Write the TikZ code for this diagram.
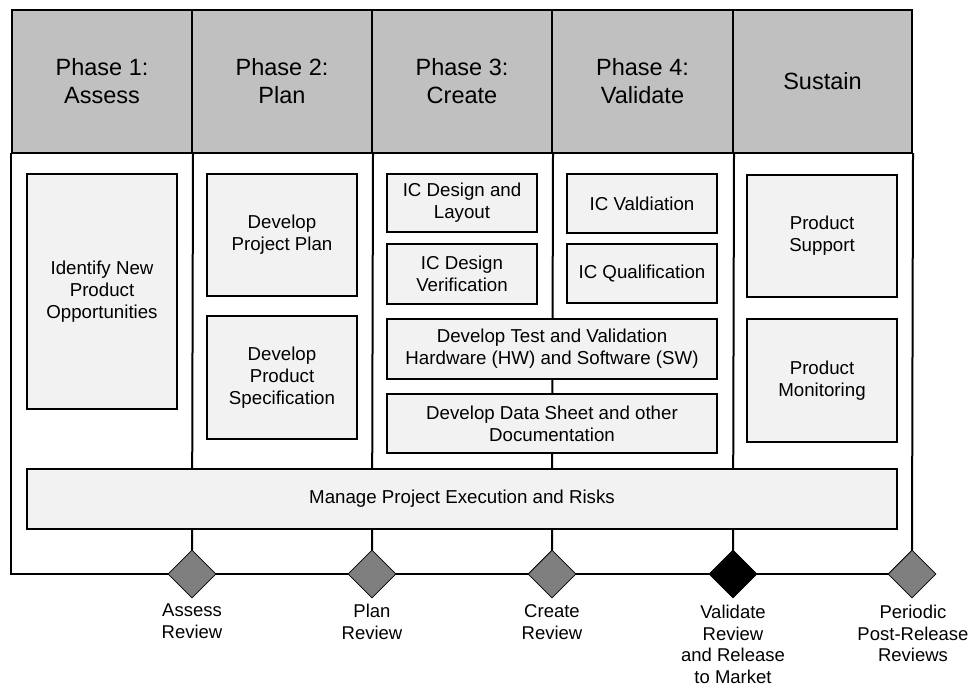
\documentclass[tikz,border=0pt]{standalone}
\usepackage{fontspec}
\setmainfont{Liberation Sans}
\usetikzlibrary{shapes.geometric,backgrounds}
\definecolor{hdrgray}{HTML}{C0C0C0}
\definecolor{boxfill}{HTML}{F2F2F2}
\definecolor{gategray}{HTML}{7F7F7F}
\begin{document}
\begin{tikzpicture}[x=1pt,y=-1pt,
 hdr/.style={draw=black,line width=2pt,fill=hdrgray,minimum height=143pt,inner sep=0pt,align=center,font=\fontsize{23.5}{28}\selectfont},
 box/.style={draw=black,line width=1.3pt,fill=boxfill,inner sep=0pt,align=center,font=\fontsize{18.7}{21.8}\selectfont},
 gate/.style={diamond,draw=black,line width=0.8pt,fill=gategray,minimum width=48pt,minimum height=48pt,inner sep=0pt},
 lab/.style={align=center,font=\fontsize{18.5}{21.7}\selectfont,inner sep=0pt},
 frame/.style={line width=2pt,line cap=rect}]
\useasboundingbox (0,0) rectangle (971,686);
% header
\node[hdr,minimum width=180pt] (h1) at (102,81.5) {Phase 1:\\Assess};
\node[hdr,minimum width=180pt] (h2) at (282,81.5) {Phase 2:\\Plan};
\node[hdr,minimum width=180pt] (h3) at (462,81.5) {Phase 3:\\Create};
\node[hdr,minimum width=181pt] (h4) at (642.5,81.5) {Phase 4:\\Validate};
\node[hdr,minimum width=179pt] (h5) at (822.5,81.5) {Sustain};
% boxes
\node[box,minimum width=150pt,minimum height=235pt] (idn) at (102,291.5) {Identify New\\Product\\Opportunities};
\node[box,minimum width=150pt,minimum height=122pt] (dpp) at (282,235) {Develop\\Project Plan};
\node[box,minimum width=150pt,minimum height=123pt] (dps) at (282,377.5) {Develop\\Product\\Specification};
\node[box,minimum width=150pt,minimum height=58pt] (icl) at (462,203) {IC Design and\\Layout};
\node[box,minimum width=150pt,minimum height=60pt] (icv) at (462,274) {IC Design\\Verification};
\node[box,minimum width=150pt,minimum height=59pt] (ival) at (642,203.5) {IC Valdiation};
\node[box,minimum width=150pt,minimum height=59pt] (iq) at (642,273.5) {IC Qualification};
\node[box,minimum width=330pt,minimum height=60pt] (dt) at (552,349) {Develop Test and Validation\\Hardware (HW) and Software (SW)};
\node[box,minimum width=330pt,minimum height=59pt] (ds) at (552,423.5) {Develop Data Sheet and other\\Documentation};
\node[box,minimum width=150pt,minimum height=122pt] (ps) at (822,236) {Product\\Support};
\node[box,minimum width=150pt,minimum height=123pt] (pm) at (822,380.5) {Product\\Monitoring};
\node[box,minimum width=870pt,minimum height=60pt] (mg) at (462,499) {Manage Project Execution and Risks};
% review gates
\node[gate] (d1) at (192,574) {};
\node[gate] (d2) at (372,574) {};
\node[gate] (d3) at (552,574) {};
\node[gate,fill=black] (d4) at (733,574) {};
\node[gate] (d5) at (912,574) {};
% labels
\node[lab] (l1) at (192,621) {Assess\\Review};
\node[lab] (l2) at (372,622) {Plan\\Review};
\node[lab] (l3) at (552,622) {Create\\Review};
\node[lab] (l4) at (733,644.5) {Validate\\Review\\and Release\\to Market};
\node[lab] (l5) at (913,633.5) {Periodic\\Post-Release\\Reviews};
% frame lines behind
\begin{pgfonlayer}{background}
\draw[frame] (h1.south west) -- (h1.south west |- d1.center) -- (d1.west);
\draw[frame] (d1.east) -- (d2.west);
\draw[frame] (d2.east) -- (d3.west);
\draw[frame] (d3.east) -- (d4.west);
\draw[frame] (d4.east) -- (d5.west);
\draw[frame] (h1.south east) -- (d1.north);
\draw[frame] (h2.south east) -- (d2.north);
\draw[frame] (h3.south east) -- (d3.north);
\draw[frame] (h4.south east) -- (d4.north);
\draw[frame] (h5.south east) -- (d5.north);
\end{pgfonlayer}
\end{tikzpicture}
\end{document}
